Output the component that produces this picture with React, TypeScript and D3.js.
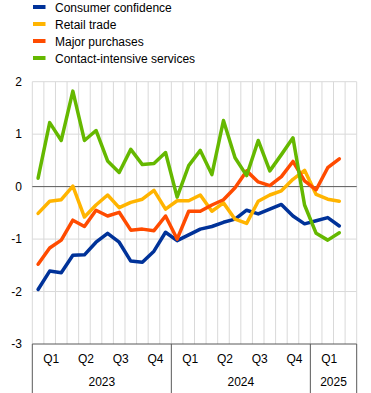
import React from "react";
import * as d3 from "d3";

const months: string[] = [];
for (let y = 2023; y <= 2025; y++) {
  for (let m = 1; m <= 12; m++) {
    if (y === 2025 && m > 4) break;
    months.push(`${y}-${String(m).padStart(2, "0")}`);
  }
}
const dataMonths = months.slice(0, 27);

const consumerConfidence = [-1.96, -1.61, -1.64, -1.31, -1.30, -1.06, -0.89, -1.06, -1.42, -1.44, -1.23, -0.87, -1.03, -0.92, -0.81, -0.76, -0.68, -0.62, -0.45, -0.52, -0.43, -0.34, -0.56, -0.71, -0.65, -0.59, -0.75];
const retailTrade = [-0.51, -0.28, -0.25, 0.01, -0.58, -0.35, -0.16, -0.40, -0.30, -0.24, -0.07, -0.43, -0.27, -0.27, -0.16, -0.47, -0.31, -0.62, -0.70, -0.28, -0.16, -0.08, 0.14, 0.31, -0.15, -0.24, -0.28];
const majorPurchases = [-1.48, -1.17, -1.02, -0.64, -0.76, -0.45, -0.56, -0.49, -0.83, -0.81, -0.84, -0.56, -1.0, -0.47, -0.47, -0.35, -0.25, -0.02, 0.30, 0.09, 0.02, 0.19, 0.48, 0.11, -0.06, 0.36, 0.53];
const contactServices = [0.16, 1.22, 0.88, 1.82, 0.88, 1.07, 0.49, 0.27, 0.71, 0.42, 0.44, 0.65, -0.2, 0.40, 0.69, 0.23, 1.26, 0.55, 0.21, 0.88, 0.30, 0.61, 0.93, -0.35, -0.89, -1.02, -0.88];

const seriesNames = ["Consumer confidence", "Retail trade", "Major purchases", "Contact-intensive services"];
const seriesColors = ["#003299", "#ffb400", "#ff4b00", "#65b800"];
const seriesValues = [consumerConfidence, retailTrade, majorPurchases, contactServices];

const yTicks = [2, 1, 0, -1, -2, -3];
const quarterLabels = ["Q1", "Q2", "Q3", "Q4", "Q1", "Q2", "Q3", "Q4", "Q1"];
const quarterStartIdx = [0, 3, 6, 9, 12, 15, 18, 21, 24];
const yearLabels = ["2023", "2024", "2025"];
const yearStartIdx = [0, 12, 24];
const yearEndIdx = [12, 24, 28];

export default function App() {
  const W = 371, H = 393;
  const left = 32.3, right = 356.7, top = 81.7, bottom = 344;
  const x = d3.scaleBand<string>().domain(months).range([left, right]).padding(0);
  const bw = x.bandwidth();
  const y = d3.scaleLinear().domain([-3, 2]).range([bottom, top]);
  const font = "'Liberation Sans', Arial, sans-serif";

  const line = d3
    .line<number>()
    .x((_, i) => (x(dataMonths[i]) as number) + bw / 2)
    .y((v) => y(v));

  const boundary = (i: number) => left + i * bw;

  return (
    <svg width={W} height={H} style={{ position: "absolute", left: 0, top: 0 }} fontFamily={font}>
      <rect x={0} y={0} width={W} height={H} fill="#fff" />
      {/* legend */}
      {seriesNames.map((n, i) => (
        <g key={n} transform={`translate(0, ${7.5 + i * 17})`}>
          <rect x={33} y={-2.5} width={12.5} height={4} fill={seriesColors[i]} />
          <text x={55} y={0} dy="0.35em" fontSize={12} fill="#000">{n}</text>
        </g>
      ))}
      {/* vertical gridlines */}
      {d3.range(0, 29).map((i) => (
        <line key={"v" + i} x1={boundary(i)} x2={boundary(i)} y1={top} y2={bottom} stroke="#d9d9d9" strokeWidth={1} />
      ))}
      {/* horizontal gridlines */}
      {yTicks.filter((t) => t !== 0 && t !== -3).map((t) => (
        <line key={"h" + t} x1={left} x2={right} y1={y(t)} y2={y(t)} stroke="#d9d9d9" strokeWidth={1} />
      ))}
      <line x1={left} x2={right} y1={y(0)} y2={y(0)} stroke="#595959" strokeWidth={1} />
      <line x1={left} x2={right} y1={bottom} y2={bottom} stroke="#595959" strokeWidth={1} />
      {/* y labels */}
      {yTicks.map((t) => (
        <text key={"yl" + t} x={22} y={y(t)} dy="0.35em" textAnchor="end" fontSize={12} fill="#000">{t}</text>
      ))}
      {/* year separators */}
      {[0, 12, 24, 28].map((i) => (
        <line key={"s" + i} x1={boundary(i)} x2={boundary(i)} y1={bottom} y2={H} stroke="#595959" strokeWidth={1} />
      ))}
      {/* quarter labels */}
      {quarterLabels.map((q, k) => (
        <text key={"q" + k} x={boundary(quarterStartIdx[k]) + 1.5 * bw + 1.5} y={359} dy="0.35em" textAnchor="middle" fontSize={12} fill="#000">{q}</text>
      ))}
      {yearLabels.map((yl, k) => (
        <text key={"y" + k} x={(boundary(yearStartIdx[k]) + boundary(yearEndIdx[k])) / 2} y={381.5} dy="0.35em" textAnchor="middle" fontSize={12} fill="#000">{yl}</text>
      ))}
      {/* series */}
      {seriesValues.map((vals, i) => (
        <path key={"p" + i} d={line(vals) as string} fill="none" stroke={seriesColors[i]} strokeWidth={3.5} strokeLinejoin="round" strokeLinecap="round" />
      ))}
    </svg>
  );
}
